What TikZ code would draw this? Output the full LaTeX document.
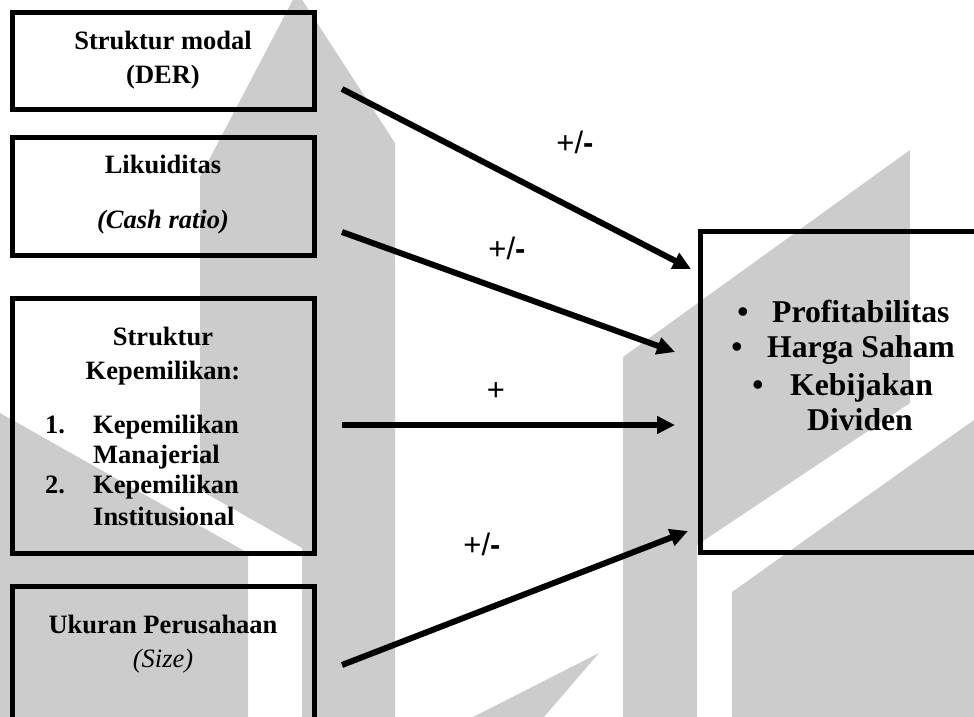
\documentclass[tikz,border=0pt]{standalone}
\usepackage{fontspec}
\setmainfont{Liberation Serif}
\newfontfamily\arialf{Liberation Sans}
\usetikzlibrary{arrows.meta}
\definecolor{wm}{RGB}{204,204,204}
\newcommand\lfont{\fontsize{26.5}{30}\selectfont\bfseries}
\newcommand\rfont{\fontsize{31.7}{36}\selectfont\bfseries}
\newcommand\sgnfont{\arialf\fontsize{31}{34}\selectfont}
\tikzset{
  box/.style={draw, line width=5pt, rectangle, inner sep=0pt},
  ltxt/.style={inner sep=0pt, anchor=base, font=\lfont},
  ltxtw/.style={inner sep=0pt, anchor=base west, font=\lfont},
  rtxt/.style={inner sep=0pt, anchor=base west, font=\rfont},
  rtxtc/.style={inner sep=0pt, anchor=base, font=\rfont},
  conn/.style={line width=6pt, -{Triangle[length=18pt,width=17pt]}},
  sgn/.style={inner sep=0pt, anchor=center, font=\sgnfont}
}
\begin{document}
\begin{tikzpicture}[x=1pt,y=-1pt]
\useasboundingbox (0,0) rectangle (974,717);
\clip (0,0) rectangle (974,717);
% watermark
\fill[wm] (200,177) -- (297,-8) -- (395,143) -- (395,717) -- (302,717) -- (302,548) -- (200,490) -- cycle;
\fill[wm] (0,413) -- (248,553) -- (248,717) -- (0,717) -- cycle;
\fill[wm] (599,653) -- (473,717) -- (544,717) -- cycle;
\fill[wm] (910,150) -- (910,403) -- (697,545) -- (697,717) -- (623,717) -- (623,357) -- cycle;
\fill[wm] (732,592) -- (974,420) -- (974,717) -- (732,717) -- cycle;
% boxes
\node[box, minimum width=302pt, minimum height=97pt] (b1) at (163.5,61) {};
\node[box, minimum width=302pt, minimum height=118pt] (b2) at (163.5,196.5) {};
\node[box, minimum width=302pt, minimum height=255pt] (b3) at (163.5,426) {};
\node[box, minimum width=302pt, minimum height=213.5pt] (b4) at (163.5,693) {};
\node[box, minimum width=299.5pt, minimum height=321pt] (r) at (850,392) {};
% texts left
\node[ltxt] (t1a) at (163,50) {Struktur modal};
\node[ltxt] (t1b) at (163,83) {(DER)};
\node[ltxt] (t2a) at (163,173) {Likuiditas};
\node[ltxt] (t2b) at (163,228) {\itshape (Cash ratio)};
\node[ltxt] (t3a) at (163,345) {Struktur};
\node[ltxt] (t3b) at (163,379) {Kepemilikan:};
\node[ltxtw] (n1) at (45,433) {1.};
\node[ltxtw] (t3c) at (93,433) {Kepemilikan};
\node[ltxtw] (t3d) at (93,463) {Manajerial};
\node[ltxtw] (n2) at (45,493) {2.};
\node[ltxtw] (t3e) at (93,493) {Kepemilikan};
\node[ltxtw] (t3f) at (93,525) {Institusional};
\node[ltxt] (t4a) at (163,633) {Ukuran Perusahaan};
\node[ltxt] (t4b) at (163,667) {\mdseries\itshape (Size)};
% texts right
\node[rtxtc] (bu1) at (743,322) {•};
\node[rtxt] (r1) at (772,322) {Profitabilitas};
\node[rtxtc] (bu2) at (737,357) {•};
\node[rtxt] (r2) at (767,357) {Harga Saham};
\node[rtxtc] (bu3) at (758,395) {•};
\node[rtxt] (r3) at (790,395) {Kebijakan};
\node[rtxtc] (r4) at (860,430) {Dividen};
% connectors
\coordinate (a1s) at (342,89);  \coordinate (a1e) at (691,269);
\coordinate (a2s) at (342,232); \coordinate (a2e) at (675,352);
\coordinate (a3s) at (342,425); \coordinate (a3e) at (675,425);
\coordinate (a4s) at (342,665); \coordinate (a4e) at (688,531);
\draw[conn] (a1s) -- (a1e);
\draw[conn] (a2s) -- (a2e);
\draw[conn] (a3s) -- (a3e);
\draw[conn] (a4s) -- (a4e);
% signs
\node[sgn] (s1) at (575,142) {+/\textbf{-}};
\node[sgn] (s2) at (507,248) {+/\textbf{-}};
\node[sgn] (s3) at (496,392) {+};
\node[sgn] (s4) at (482,544) {+/\textbf{-}};
\end{tikzpicture}
\end{document}
